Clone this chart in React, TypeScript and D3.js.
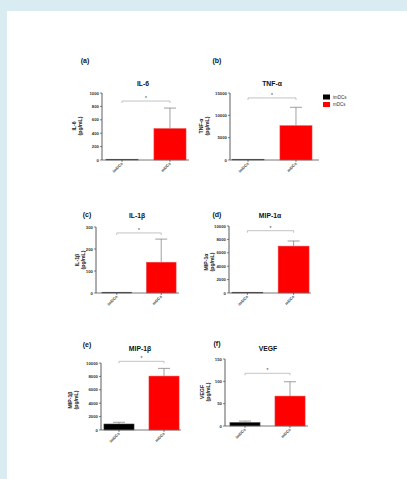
import React from "react";
import * as d3 from "d3";

const groups = ["imDCs", "mDCs"];
const panelTags = ["(a)", "(b)", "(c)", "(d)", "(e)", "(f)"];
const titles = ["IL-6", "TNF-α", "IL-1β", "MIP-1α", "MIP-1β", "VEGF"];
const yLabels = ["IL-6", "TNF-α", "IL-1β", "MIP-1α", "MIP-1β", "VEGF"];
const yMax = [1000, 15000, 300, 10000, 10000, 150];
const yTicks = [
  [0, 200, 400, 600, 800, 1000],
  [0, 5000, 10000, 15000],
  [0, 100, 200, 300],
  [0, 2000, 4000, 6000, 8000, 10000],
  [0, 2000, 4000, 6000, 8000, 10000],
  [0, 50, 100, 150],
];
const imMeans = [0, 50, 3, 100, 900, 8];
const imErrs = [0, 0, 0, 0, 250, 3];
const mMeans = [470, 7700, 140, 7000, 8050, 67];
const mErrs = [305, 4100, 105, 760, 1150, 32];
const bracketVals = [880, 13900, 273, 9300, 10250, 118];

// layout (pixel positions of each panel's frame)
const layout = [
  { ax: 102, yTop: 93, yBot: 160, x0: 105, x1: 187, xEnd: 189, tagX: 85, tagY: 63, titleX: 143, titleY: 86, labX: 76, labY: 126 },
  { ax: 230, yTop: 93, yBot: 160, x0: 231, x1: 313, xEnd: 319, tagX: 217, tagY: 63, titleX: 272, titleY: 86, labX: 203, labY: 126 },
  { ax: 96, yTop: 227, yBot: 293, x0: 101, x1: 177, xEnd: 179, tagX: 87, tagY: 217, titleX: 137, titleY: 218, labX: 79, labY: 260 },
  { ax: 229, yTop: 226, yBot: 293, x0: 231, x1: 310, xEnd: 311, tagX: 217, tagY: 217, titleX: 270, titleY: 218, labX: 208, labY: 262 },
  { ax: 101, yTop: 363, yBot: 430, x0: 103, x1: 180, xEnd: 181, tagX: 87, tagY: 347, titleX: 140, titleY: 351, labX: 72, labY: 400 },
  { ax: 225, yTop: 359, yBot: 426, x0: 229, x1: 306, xEnd: 308, tagX: 217, tagY: 346, titleX: 268, titleY: 351, labX: 204, labY: 392 },
];

const colors = ["#000000", "#ff0000"];
const font = "Arial, 'Liberation Sans', sans-serif";

function Panel({ i }: { i: number }) {
  const L = layout[i];
  const y = d3.scaleLinear().domain([0, yMax[i]]).range([L.yBot, L.yTop]);
  const x = d3.scaleBand<string>().domain(groups).range([L.x0, L.x1]).paddingInner(0.33).paddingOuter(0.02);
  const bw = x.bandwidth();
  const means = [imMeans[i], mMeans[i]];
  const errs = [imErrs[i], mErrs[i]];
  const by = y(bracketVals[i]);
  const c0 = (x(groups[0]) as number) + bw / 2;
  const c1 = (x(groups[1]) as number) + bw / 2;
  return (
    <g fontFamily={font}>
      <text x={L.tagX} y={L.tagY} fontSize={7} fontWeight="bold" textAnchor="middle" fill="#111">{panelTags[i]}</text>
      <text x={L.titleX} y={L.titleY} fontSize={6.8} fontWeight="bold" textAnchor="middle" fill="#111">{titles[i]}</text>
      <g transform={`translate(${L.labX},${L.labY}) rotate(-90)`} fontSize={5.2} fontWeight="bold" fill="#222" textAnchor="middle">
        <text x={0} y={0}>{yLabels[i]}</text>
        <text x={0} y={6}>(pg/mL)</text>
      </g>
      {groups.map((g, k) => {
        const h = Math.max(L.yBot - y(means[k]), 0.8);
        return (
          <rect key={g} x={x(g)} y={L.yBot - h} width={bw} height={h}
            fill={colors[k]} stroke={k === 1 ? "#e55" : "#555"} strokeWidth={0.5} />
        );
      })}
      {groups.map((g, k) => {
        if (errs[k] <= 0) return null;
        const cx = (x(g) as number) + bw / 2;
        return (
          <g key={g + "e"} stroke="#888" strokeWidth={0.8}>
            <line x1={cx} x2={cx} y1={y(means[k])} y2={y(means[k] + errs[k])} />
            <line x1={cx - 6} x2={cx + 6} y1={y(means[k] + errs[k])} y2={y(means[k] + errs[k])} />
          </g>
        );
      })}
      <g stroke="#aaa" strokeWidth={0.7} fill="none">
        <path d={`M${c0},${by + 2}V${by}H${c1}V${by + 2}`} />
      </g>
      <text x={(c0 + c1) / 2} y={by - 1} fontSize={5} textAnchor="middle" fill="#333">*</text>
      <line x1={L.ax} x2={L.ax} y1={L.yTop} y2={L.yBot} stroke="#333" strokeWidth={0.8} />
      <line x1={L.ax} x2={L.xEnd} y1={L.yBot} y2={L.yBot} stroke="#555" strokeWidth={0.8} />
      {yTicks[i].map((t) => (
        <g key={t}>
          <line x1={L.ax - 2} x2={L.ax} y1={y(t)} y2={y(t)} stroke="#333" strokeWidth={0.6} />
          <text x={L.ax - 3} y={y(t) + 1.5} fontSize={4.3} fontWeight="bold" textAnchor="end" fill="#333">{t}</text>
        </g>
      ))}
      {groups.map((g) => {
        const cx = (x(g) as number) + bw / 2;
        return (
          <g key={g + "t"}>
            <line x1={cx} x2={cx} y1={L.yBot} y2={L.yBot + 2} stroke="#333" strokeWidth={0.6} />
            <text transform={`translate(${cx + 1},${L.yBot + 4}) rotate(-45)`} fontSize={4} fontWeight="bold" textAnchor="end" fill="#444">{g}</text>
          </g>
        );
      })}
    </g>
  );
}

export default function App() {
  return (
    <svg width={407} height={479} style={{ position: "absolute", left: 0, top: 0 }}>
      <rect x={0} y={0} width={407} height={479} fill="#d8ecf2" />
      <rect x={7} y={11} width={400} height={468} fill="#ffffff" />
      {layout.map((_, i) => <Panel key={i} i={i} />)}
      <g fontFamily={font} fontSize={4.5} fill="#333">
        {groups.map((g, k) => (
          <g key={g}>
            <rect x={323} y={94.5 + k * 7.5} width={7} height={5} fill={colors[k]} />
            <text x={333} y={98.8 + k * 7.5}>{g}</text>
          </g>
        ))}
      </g>
    </svg>
  );
}
